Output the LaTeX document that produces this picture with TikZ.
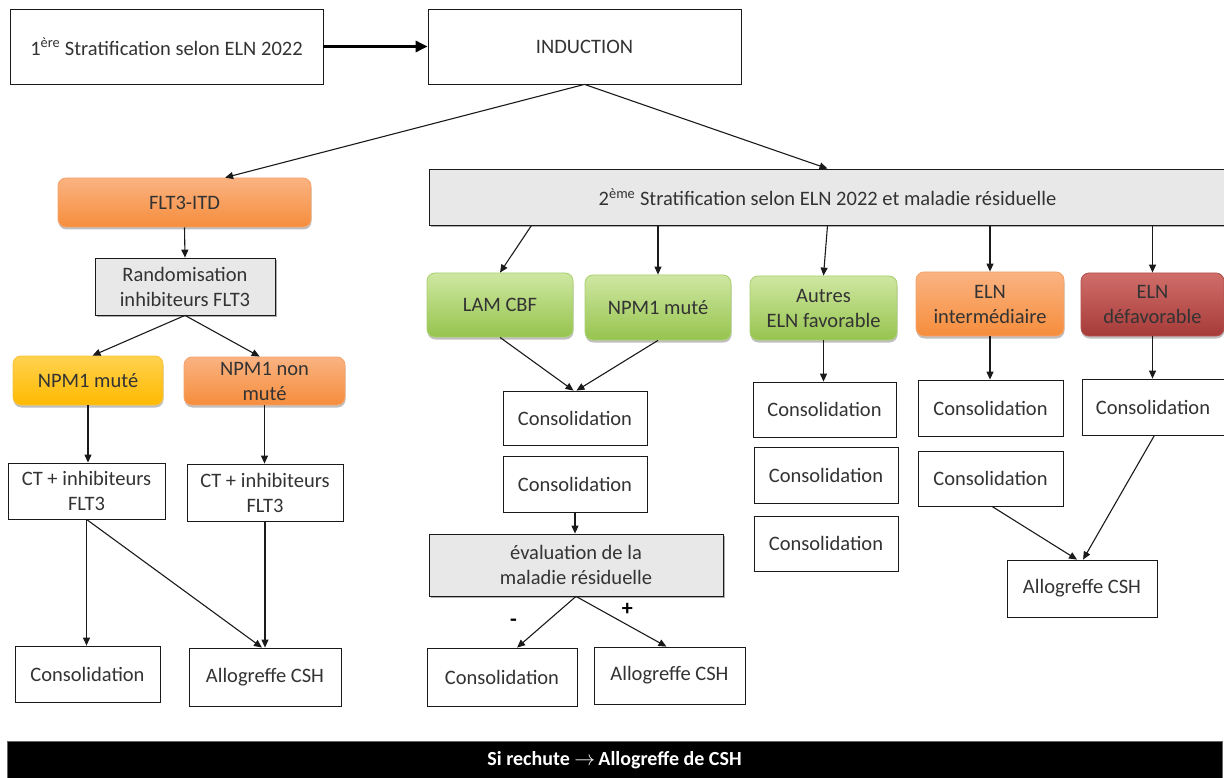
\documentclass[tikz,border=0pt]{standalone}
\usepackage{fontspec}
\setmainfont{Carlito}
\usetikzlibrary{arrows.meta,shadows,calc}
\definecolor{txt}{HTML}{333333}
\definecolor{ln}{HTML}{1A1A1A}
\definecolor{grayfill}{HTML}{E8E8E8}
\definecolor{orT}{HTML}{FAB382}
\definecolor{orB}{HTML}{F68D3C}
\definecolor{orD}{HTML}{F5A36A}
\definecolor{goT}{HTML}{FFD24F}
\definecolor{goB}{HTML}{FFB900}
\definecolor{goD}{HTML}{F7C33A}
\definecolor{grT}{HTML}{CFE7A2}
\definecolor{grB}{HTML}{96C44E}
\definecolor{grD}{HTML}{A9CF6E}
\definecolor{rdT}{HTML}{D06E6A}
\definecolor{rdB}{HTML}{A63B39}
\definecolor{rdD}{HTML}{B2504D}
\begin{document}
\begin{tikzpicture}[x=1pt,y=-1pt,
  sz/.style 2 args={minimum width=#1pt, minimum height=#2pt},
  box/.style={draw=ln, line width=0.8pt, fill=white, text=txt, align=center,
    inner sep=2pt, font=\fontsize{20.5}{25}\selectfont},
  graybox/.style={box, fill=grayfill,
    drop shadow={shadow xshift=2pt, shadow yshift=-2pt, opacity=0.45, fill=black!70}},
  roundbox/.style={box, rounded corners=8pt,
    drop shadow={shadow xshift=0.5pt, shadow yshift=-2.5pt, opacity=0.25, fill=black}},
  orangebox/.style={roundbox, top color=orT, bottom color=orB, draw=orD},
  goldbox/.style={roundbox, top color=goT, bottom color=goB, draw=goD},
  greenbox/.style={roundbox, top color=grT, bottom color=grB, draw=grD},
  redbox/.style={roundbox, top color=rdT, bottom color=rdB, draw=rdD},
  arr/.style={draw=ln, line width=1.1pt, -{Triangle[length=8pt,width=7pt]}},
  bigarr/.style={draw=black, line width=3pt, -{Triangle[length=12pt,width=11pt]}},
  sign/.style={text=black, font=\fontsize{22}{22}\selectfont\bfseries, inner sep=0pt}
]
\useasboundingbox (0,0) rectangle (1224,778);

% top row
\node[box, sz={313}{75}] (s1) at (166.5,46.5) {1\textsuperscript{ère} Stratification selon ELN 2022};
\node[box, sz={313}{75}] (ind) at (584.5,46.5) {INDUCTION};

% left branch
\node[orangebox, sz={253}{49}] (flt) at (184.5,202.5) {FLT3-ITD};
\node[graybox, sz={180}{57}] (rand) at (185,286.5) {Randomisation\\inhibiteurs FLT3};
\node[goldbox, sz={150}{49}] (npmL) at (88,380.5) {NPM1 muté};
\node[orangebox, sz={161}{48}] (npmnL) at (264.5,381) {NPM1 non\\muté};
\node[box, sz={157}{56}] (ctL) at (86.5,491) {CT + inhibiteurs\\FLT3};
\node[box, sz={156}{57}] (ctR) at (265,492.5) {CT + inhibiteurs\\FLT3};
\node[box, sz={145}{56}] (conL) at (87.5,674) {Consolidation};
\node[box, sz={152}{58}] (alloL) at (265,677) {Allogreffe CSH};

% right branch
\node[graybox, sz={797}{56}] (s2) at (827.5,197) {2\textsuperscript{ème} Stratification selon ELN 2022 et maladie résiduelle};
\node[greenbox, sz={146}{64}] (lam) at (500,305) {LAM CBF};
\node[greenbox, sz={146}{65}] (npmR) at (658,307.5) {NPM1 muté};
\node[greenbox, sz={147}{64}] (aut) at (823.5,308) {Autres\\ELN favorable};
\node[orangebox, sz={148}{64}] (int) at (990,304) {ELN\\intermédiaire};
\node[redbox, sz={143}{63}] (def) at (1152.5,304.5) {ELN\\défavorable};

\node[box, sz={144}{54}] (conA) at (575,418) {Consolidation};
\node[box, sz={144}{56}] (conB) at (575,484) {Consolidation};
\node[graybox, sz={294}{62}] (eval) at (576,565) {évaluation de la\\maladie résiduelle};
\node[box, sz={150}{58}] (conC) at (502,677) {Consolidation};
\node[box, sz={151}{57}] (alloC) at (669.5,675.5) {Allogreffe CSH};

\node[box, sz={143}{55}] (aut1) at (824.5,409.5) {Consolidation};
\node[box, sz={144}{56}] (aut2) at (826,475) {Consolidation};
\node[box, sz={144}{55}] (aut3) at (826,543.5) {Consolidation};

\node[box, sz={145}{56}] (int1) at (990.5,408) {Consolidation};
\node[box, sz={145}{55}] (int2) at (990.5,478.5) {Consolidation};
\node[box, sz={142}{56}] (def1) at (1153,407) {Consolidation};
\node[box, sz={150}{57}] (alloR) at (1082,588.5) {Allogreffe CSH};

% bottom bar
\node[fill=black, draw=black!60, line width=0.6pt, minimum width=1215pt, minimum height=39pt,
  text=white, font=\fontsize{20}{22}\selectfont\bfseries, inner sep=0pt] (bar) at (614.5,760.5)
  {Si rechute $\rightarrow$\,Allogreffe de CSH};

% connectors
\draw[bigarr] (s1.east) -- (ind.west);
\draw[arr] (ind.south) -- ($(flt.north west)!0.66!(flt.north east)$);
\draw[arr] (ind.south) -- (s2.north);
\draw[arr] (flt.south) -- (rand.north);
\draw[arr] (rand.south) -- ($(npmL.north west)!0.53!(npmL.north east)$);
\draw[arr] (rand.south) -- ($(npmnL.north west)!0.47!(npmnL.north east)$);
\draw[arr] (npmL.south) -- (npmL.south |- ctL.north);
\draw[arr] (npmnL.south) -- (npmnL.south |- ctR.north);
\draw[arr] (ctL.south) -- (ctL.south |- conL.north);
\draw[arr] (ctL.south) -- ($(alloL.north west)!0.48!(alloL.north east)$);
\draw[arr] (ctR.south) -- (ctR.south |- alloL.north);

\draw[arr] ($(s2.south west)!0.129!(s2.south east)$) -- (lam.north);
\draw[arr] (npmR.north |- s2.south) -- (npmR.north);
\draw[arr] (s2.south) -- (aut.north);
\draw[arr] (int.north |- s2.south) -- (int.north);
\draw[arr] (def.north |- s2.south) -- (def.north);

\draw[arr] (lam.south) -- ($(conA.north west)!0.49!(conA.north east)$);
\draw[arr] (npmR.south) -- ($(conA.north west)!0.51!(conA.north east)$);
\draw[arr] (conB.south) -- (conB.south |- eval.north);
\draw[arr] (eval.south) -- ($(conC.north west)!0.6!(conC.north east)$)
  node[sign, midway, xshift=-33pt, yshift=-1pt] {-};
\draw[arr] (eval.south) -- ($(alloC.north west)!0.48!(alloC.north east)$)
  node[sign, midway, xshift=6pt, yshift=12pt] {+};

\draw[arr] (aut.south) -- (aut.south |- aut1.north);
\draw[arr] (int.south) -- (int.south |- int1.north);
\draw[arr] (def.south) -- (def.south |- def1.north);
\draw[arr] ($(int2.south west)!0.51!(int2.south east)$) -- ($(alloR.north west)!0.467!(alloR.north east)$);
\draw[arr] ($(def1.south west)!0.51!(def1.south east)$) -- ($(alloR.north west)!0.507!(alloR.north east)$);
\end{tikzpicture}
\end{document}
